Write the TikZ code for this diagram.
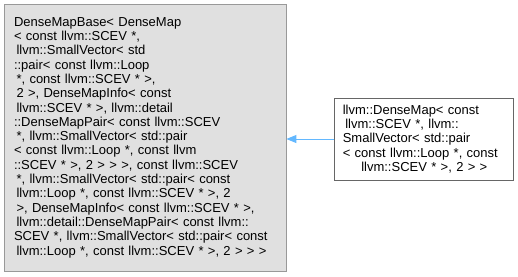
\documentclass[tikz,border=0pt]{standalone}
\usepackage{fontspec}
\setmainfont{Liberation Sans}
\usepackage{tikz}
\usetikzlibrary{arrows.meta,positioning}

\definecolor{basefill}{HTML}{E0E0E0}
\definecolor{baseline}{HTML}{999999}
\definecolor{mapline}{HTML}{666666}
\definecolor{inherit}{HTML}{63B8FF}
% small indent kept at the start of a wrapped line
\newcommand\lsp{\hspace*{2.5pt}}
% last line of a label is centred
\newcommand\lastline[1]{\makebox[\linewidth][c]{#1}}

\begin{document}
\begin{tikzpicture}[x=1pt, y=-1pt,
    cls/.style={draw, line width=0.8pt, inner ysep=0pt, align=left,
      font=\fontsize{13}{14.3}\selectfont},
    arr/.style={{Triangle[length=10pt,width=8pt]}-, line width=0.9pt, draw=inherit, fill=inherit}
  ]
    \useasboundingbox (0,0) rectangle (518,276);
    \node[cls, fill=basefill, draw=baseline, inner xsep=10pt, text width=262pt,
      minimum width=282pt, minimum height=267pt] (base) at (145,137.5) {%
      DenseMapBase< DenseMap\\
      < const llvm::SCEV *,\\
      \lsp llvm::SmallVector< std\\
      ::pair< const llvm::Loop\\
      \lsp *, const llvm::SCEV * >,\\
      \lsp 2 >, DenseMapInfo< const\\
      \lsp llvm::SCEV * >, llvm::detail\\
      ::DenseMapPair< const llvm::SCEV\\
      \lsp *, llvm::SmallVector< std::pair\\
      < const llvm::Loop *, const llvm\\
      ::SCEV * >, 2 > > >, const llvm::SCEV\\
      \lsp *, llvm::SmallVector< std::pair< const\\
      \lsp llvm::Loop *, const llvm::SCEV * >, 2\\
      \lsp >, DenseMapInfo< const llvm::SCEV * >,\\
      \lsp llvm::detail::DenseMapPair< const llvm::\\
      SCEV *, llvm::SmallVector< std::pair< const\\
      \lsp llvm::Loop *, const llvm::SCEV * >, 2 > > >\\[-4pt]};
    \node[cls, fill=white, draw=mapline, inner xsep=8pt, text width=163pt,
      minimum width=179pt, minimum height=82pt, right=48pt of base, yshift=-1.5pt] (map) {%
      llvm::DenseMap< const\\
      \lsp llvm::SCEV *, llvm::\\
      SmallVector< std::pair\\
      < const llvm::Loop *, const\\
      \lastline{llvm::SCEV * >, 2 > >}};
    \draw[arr] (base.east |- map.west) -- (map.west);
  \end{tikzpicture}
\end{document}
